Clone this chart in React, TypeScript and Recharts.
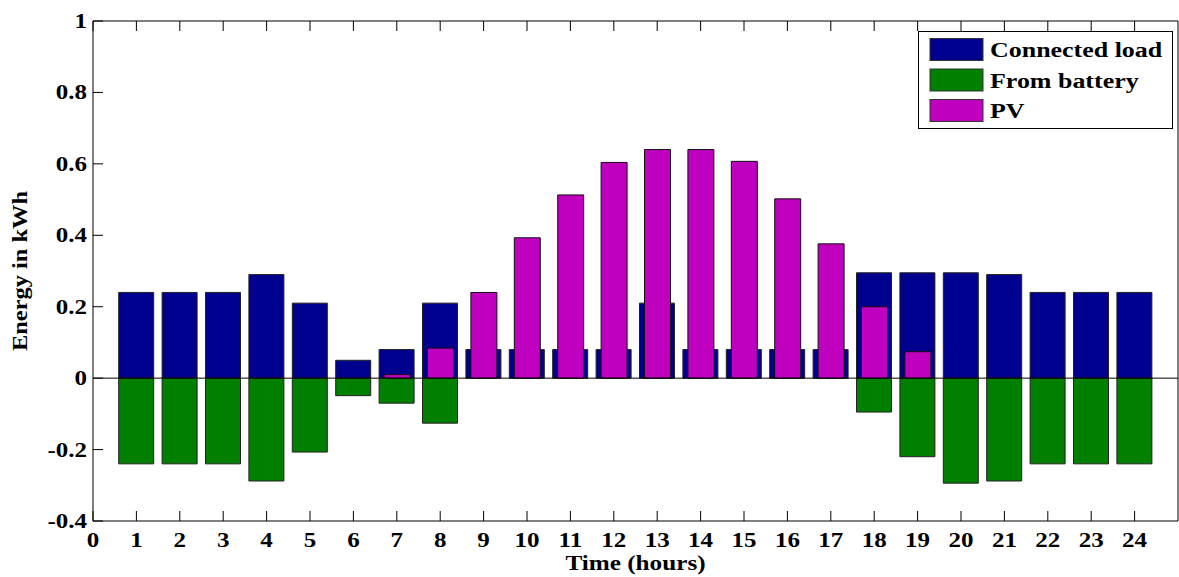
import React from "react";
import {
  ComposedChart,
  Bar,
  XAxis,
  YAxis,
  ReferenceLine,
  Legend,
} from "recharts";

const hours = [1, 2, 3, 4, 5, 6, 7, 8, 9, 10, 11, 12, 13, 14, 15, 16, 17, 18, 19, 20, 21, 22, 23, 24];
const connectedLoad = [
  0.24, 0.24, 0.24, 0.29, 0.21, 0.05, 0.08, 0.21, 0.08, 0.08, 0.08, 0.08,
  0.21, 0.08, 0.08, 0.08, 0.08, 0.295, 0.295, 0.295, 0.29, 0.24, 0.24, 0.24,
];
const fromBattery = [
  -0.24, -0.24, -0.24, -0.288, -0.207, -0.049, -0.07, -0.126, null, null, null, null,
  null, null, null, null, null, -0.095, -0.22, -0.294, -0.288, -0.24, -0.24, -0.24,
];
const pv = [
  null, null, null, null, null, null, 0.01, 0.084, 0.24, 0.393, 0.513, 0.604,
  0.64, 0.64, 0.607, 0.502, 0.376, 0.2, 0.074, null, null, null, null, null,
];
const xTicks = [0, 1, 2, 3, 4, 5, 6, 7, 8, 9, 10, 11, 12, 13, 14, 15, 16, 17, 18, 19, 20, 21, 22, 23, 24];
const yTicks = [-0.4, -0.2, 0, 0.2, 0.4, 0.6, 0.8, 1];

const data = hours.map((h, i) => ({
  hour: h,
  load: connectedLoad[i],
  battery: fromBattery[i],
  pv: pv[i],
}));

const NAVY = "#00008f";
const GREEN = "#007f00";
const MAGENTA = "#bf00bf";
const FONT = '"Liberation Serif", "Times New Roman", serif';
const STRETCH = 1.25;

const BottomTick = (props: any) => {
  const { x, y, payload } = props;
  return (
    <g>
      <line x1={x} x2={x} y1={y} y2={y - 10} stroke="#000" />
      <text
        transform={`translate(${x},${y + 26}) scale(${STRETCH},1)`}
        textAnchor="middle"
        fontFamily={FONT}
        fontWeight="bold"
        fontSize={20}
        fill="#000"
      >
        {payload.value}
      </text>
    </g>
  );
};

const TopTick = (props: any) => {
  const { x, y } = props;
  return <line x1={x} x2={x} y1={y} y2={y + 10} stroke="#000" />;
};

const LeftTick = (props: any) => {
  const { x, y, payload } = props;
  return (
    <g>
      <line x1={x} x2={x + 10} y1={y} y2={y} stroke="#000" />
      <text
        transform={`translate(${x - 6},${y + 7}) scale(${STRETCH},1)`}
        textAnchor="end"
        fontFamily={FONT}
        fontWeight="bold"
        fontSize={20}
        fill="#000"
      >
        {String(payload.value)}
      </text>
    </g>
  );
};

const RightTick = (props: any) => {
  const { x, y } = props;
  return <line x1={x} x2={x - 10} y1={y} y2={y} stroke="#000" />;
};

const xTitle = (props: any) => {
  const { x, y, width } = props.viewBox;
  return (
    <text
      transform={`translate(${x + width / 2},${y + 49}) scale(1.26,1)`}
      textAnchor="middle"
      fontFamily={FONT}
      fontWeight="bold"
      fontSize={20}
      fill="#000"
    >
      Time (hours)
    </text>
  );
};

const yTitle = (props: any) => {
  const { x, y, height } = props.viewBox;
  return (
    <text
      transform={`translate(${x + 27},${y + height / 2}) rotate(-90) scale(1.22,1)`}
      textAnchor="middle"
      fontFamily={FONT}
      fontWeight="bold"
      fontSize={20}
      fill="#000"
    >
      Energy in kWh
    </text>
  );
};

const legendItems = [
  { name: "Connected load", color: NAVY },
  { name: "From battery", color: GREEN },
  { name: "PV", color: MAGENTA },
];

const renderLegend = () => (
  <svg width={255} height={98} style={{ display: "block" }}>
    <rect x={0.5} y={0.5} width={254} height={97} fill="#fff" stroke="#000" />
    {legendItems.map((item, i) => (
      <g key={item.name}>
        <rect
          x={12}
          y={7.5 + i * 30.5}
          width={53}
          height={22}
          fill={item.color}
          stroke="#333"
        />
        <text
          transform={`translate(72,${26 + i * 30.5}) scale(1.18,1)`}
          fontFamily={FONT}
          fontWeight="bold"
          fontSize={22}
          fill="#000"
        >
          {item.name}
        </text>
      </g>
    ))}
  </svg>
);

export default function App() {
  return (
    <div style={{ position: "absolute", left: 0, top: 0, background: "#fff" }}>
      <ComposedChart
        width={1179}
        height={577}
        data={data}
        stackOffset="sign"
        margin={{ top: 20, right: 0, bottom: 0, left: 0 }}
      >
        <XAxis
          xAxisId="main"
          dataKey="hour"
          type="number"
          domain={[0, 25]}
          ticks={xTicks}
          interval={0}
          height={56}
          tickSize={0}
          tickMargin={0}
          tickLine={false}
          tick={BottomTick}
          stroke="#000"
          label={xTitle}
        />
        <XAxis
          xAxisId="top"
          orientation="top"
          dataKey="hour"
          type="number"
          domain={[0, 25]}
          ticks={xTicks}
          interval={0}
          height={1}
          tickSize={0}
          tickMargin={0}
          tickLine={false}
          tick={TopTick}
          stroke="#000"
        />
        <YAxis
          yAxisId="left"
          type="number"
          domain={[-0.4, 1]}
          ticks={yTicks}
          interval={0}
          width={93}
          tickSize={0}
          tickMargin={0}
          tickLine={false}
          tick={LeftTick}
          stroke="#000"
          label={yTitle}
        />
        <YAxis
          yAxisId="right"
          orientation="right"
          type="number"
          domain={[-0.4, 1]}
          ticks={yTicks}
          interval={0}
          width={1}
          tickSize={0}
          tickMargin={0}
          tickLine={false}
          tick={RightTick}
          stroke="#000"
        />
        <Legend
          layout="vertical"
          align="center"
          verticalAlign="middle"
          content={renderLegend}
          wrapperStyle={{ left: 918, top: 31, width: 255, height: 98 }}
        />
        <Bar
          xAxisId="main"
          yAxisId="left"
          dataKey="load"
          stackId="energy"
          name="Connected load"
          fill={NAVY}
          stroke="#222"
          strokeWidth={1}
          barSize={35}
          isAnimationActive={false}
        />
        <Bar
          xAxisId="main"
          yAxisId="left"
          dataKey="battery"
          stackId="energy"
          name="From battery"
          fill={GREEN}
          stroke="#222"
          strokeWidth={1}
          barSize={35}
          isAnimationActive={false}
        />
        <Bar
          xAxisId="top"
          yAxisId="left"
          dataKey="pv"
          name="PV"
          fill={MAGENTA}
          stroke="#111"
          strokeWidth={1}
          barSize={26}
          isAnimationActive={false}
        />
        <ReferenceLine xAxisId="main" yAxisId="left" y={0} stroke="#000" strokeWidth={1} />
      </ComposedChart>
    </div>
  );
}
